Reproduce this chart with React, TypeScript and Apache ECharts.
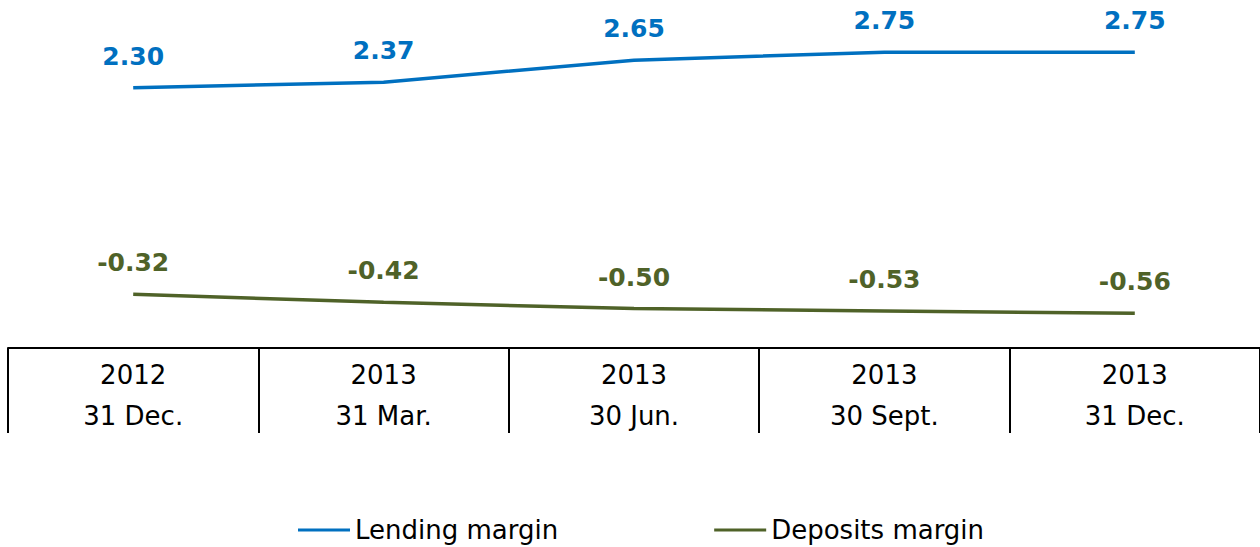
import React, { useEffect, useRef } from "react";
import * as echarts from "echarts";

const categories = ["2012\n31 Dec.", "2013\n31 Mar.", "2013\n30 Jun.", "2013\n30 Sept.", "2013\n31 Dec."];
const lendingMargin = [2.3, 2.37, 2.65, 2.75, 2.75];
const depositsMargin = [-0.32, -0.42, -0.5, -0.53, -0.56];
const seriesNames = ["Lending margin", "Deposits margin"];

const BLUE = "#0070C0";
const GREEN = "#4F6228";
const FONT = "DejaVu Sans";

export default function App() {
  const ref = useRef<HTMLDivElement>(null);
  useEffect(() => {
    document.body.style.margin = "0";
    const chart = echarts.init(ref.current!, null, { renderer: "svg" });
    const label = (color: string) => ({
      show: true,
      position: "top",
      distance: 19,
      color,
      fontFamily: FONT,
      fontWeight: "bold",
      fontSize: 25,
      formatter: (p: any) => Number(p.value).toFixed(2),
    });
    chart.setOption({
      animation: false,
      backgroundColor: "#ffffff",
      grid: { left: 8, right: 0, top: 1, bottom: 199, containLabel: false },
      legend: {
        left: 298,
        top: 516,
        padding: 0,
        icon: "rect",
        itemWidth: 52,
        itemHeight: 3,
        itemGap: 156,
        textStyle: { fontFamily: FONT, fontSize: 26, lineHeight: 28, color: "#000", padding: [0, 0, 0, 0] },
        data: seriesNames,
      },
      xAxis: {
        type: "category",
        data: categories,
        boundaryGap: true,
        axisLine: { show: true, onZero: false, lineStyle: { color: "#000", width: 2 } },
        axisTick: { show: true, length: 85, lineStyle: { color: "#000", width: 2 } },
        axisLabel: {
          color: "#000",
          fontFamily: FONT,
          fontSize: 26,
          lineHeight: 41,
          margin: 6,
          interval: 0,
        },
      },
      yAxis: {
        type: "value",
        min: -1,
        max: 3.4,
        show: false,
        splitLine: { show: false },
      },
      series: [
        {
          name: seriesNames[0],
          type: "line",
          data: lendingMargin,
          symbol: "circle",
          symbolSize: 0,
          showSymbol: true,
          lineStyle: { color: BLUE, width: 3.5 },
          itemStyle: { color: BLUE },
          label: label(BLUE),
        },
        {
          name: seriesNames[1],
          type: "line",
          data: depositsMargin,
          symbol: "circle",
          symbolSize: 0,
          showSymbol: true,
          lineStyle: { color: GREEN, width: 3.5 },
          itemStyle: { color: GREEN },
          label: label(GREEN),
        },
      ],
    });
    return () => chart.dispose();
  }, []);
  return <div ref={ref} style={{ width: 1260, height: 547 }} />;
}
